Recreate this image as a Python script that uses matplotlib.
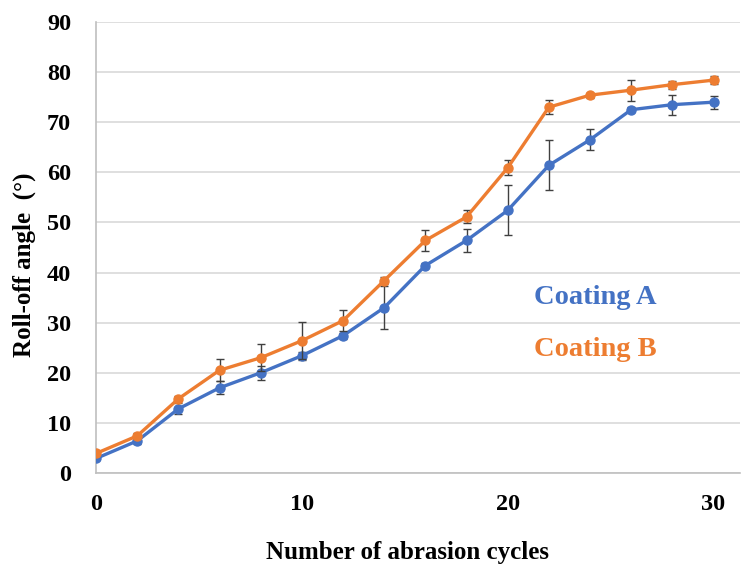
import matplotlib
matplotlib.use("Agg")
from matplotlib import pyplot as plt

cycles = [0, 2, 4, 6, 8, 10, 12, 14, 16, 18, 20, 22, 24, 26, 28, 30]

coating_a = [2.9, 6.4, 12.8, 17.0, 20.0, 23.4, 27.4, 33.0, 41.4, 46.4, 52.4, 61.4, 66.5, 72.5, 73.5, 74.0]
coating_a_err = [0.4, 0.6, 1.1, 1.3, 1.4, 0.8, 0.6, 4.3, 0.5, 2.2, 5.0, 5.0, 2.1, 0.5, 2.0, 1.3]

coating_b = [3.9, 7.4, 14.8, 20.5, 23.0, 26.4, 30.4, 38.4, 46.4, 51.1, 60.9, 73.0, 75.4, 76.4, 77.5, 78.4]
coating_b_err = [0.4, 0.5, 0.5, 2.2, 2.7, 3.7, 2.1, 0.7, 2.0, 1.3, 1.5, 1.4, 0.5, 2.1, 0.8, 0.8]

blue = "#4472C4"
orange = "#ED7D31"
font = "Liberation Serif"

fig = plt.figure(figsize=(7.41, 5.67), dpi=100)
ax = fig.add_axes([0.1296, 0.1658, 0.8694, 0.7954])

ax.errorbar(cycles, coating_a, yerr=coating_a_err, color=blue, lw=2.4, marker="o",
            ms=6.5, ecolor="#404040", elinewidth=1, capsize=3.2, capthick=1, zorder=3)
ax.errorbar(cycles, coating_b, yerr=coating_b_err, color=orange, lw=2.4, marker="o",
            ms=6.5, ecolor="#404040", elinewidth=1, capsize=3.2, capthick=1, zorder=4)

ax.set_xlim(0, 31.3)
ax.set_ylim(0, 90)
ax.set_xticks([0, 10, 20, 30])
ax.set_yticks(range(0, 91, 10))
ax.grid(axis="y", color="#d9d9d9", lw=1.2)
ax.set_axisbelow(True)
for s in ["top", "right"]:
    ax.spines[s].set_visible(False)
for s in ["left", "bottom"]:
    ax.spines[s].set_color("#bfbfbf")
    ax.spines[s].set_linewidth(1.2)
ax.tick_params(length=0)
ax.tick_params(axis="x", pad=15)
ax.tick_params(axis="y", pad=18)
for lab in ax.get_xticklabels() + ax.get_yticklabels():
    lab.set_fontfamily(font)
    lab.set_fontweight("bold")
    lab.set_fontsize(17.5)

# axis titles placed by hand to match the original layout
fig.text(408 / 741, 1 - 552 / 567, "Number of abrasion cycles", fontfamily=font,
         fontweight="bold", fontsize=18, ha="center", va="center")
fig.text(24 / 741, 1 - 265 / 567, "Roll-off angle  (°)", fontfamily=font,
         fontweight="bold", fontsize=18, ha="center", va="center", rotation=90)

fig.text(534 / 741, 1 - 298 / 567, "Coating A", color=blue, fontfamily=font,
         fontweight="bold", fontsize=20.5, va="center")
fig.text(534 / 741, 1 - 350 / 567, "Coating B", color=orange, fontfamily=font,
         fontweight="bold", fontsize=20.5, va="center")

fig.savefig("out.png", dpi=100)
